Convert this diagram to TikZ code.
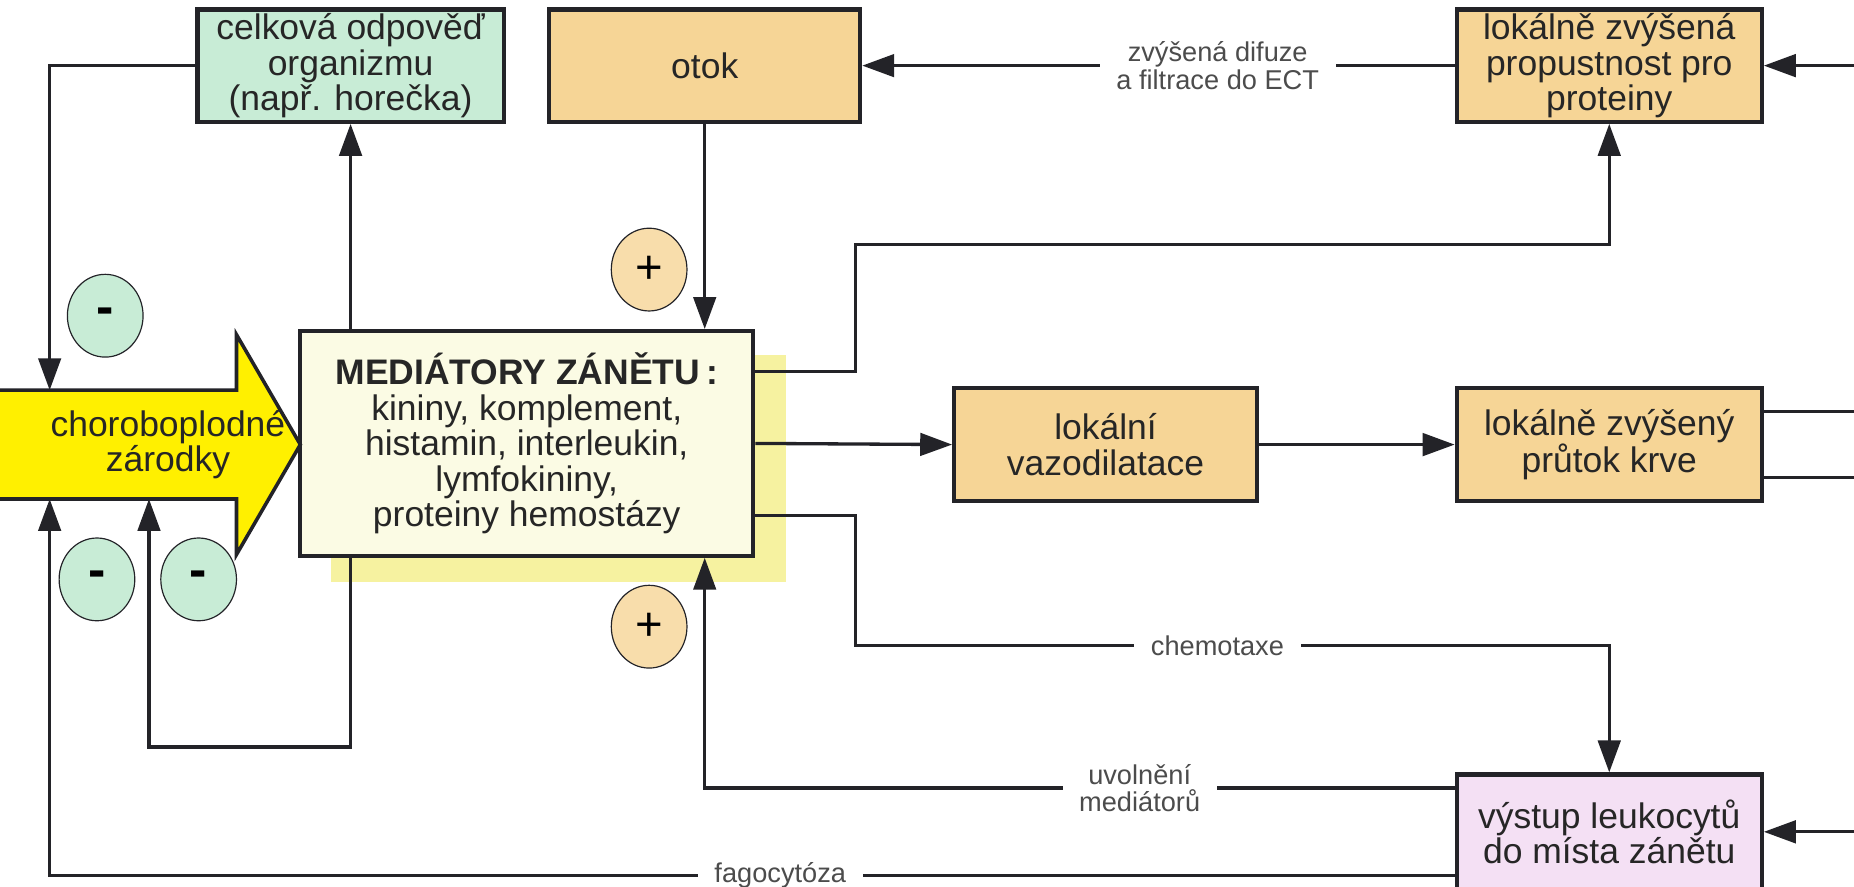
\documentclass[tikz,border=0pt]{standalone}
\usepackage{fontspec}
\setmainfont{Liberation Sans}
\usetikzlibrary{arrows.meta,shapes.geometric,calc}

\definecolor{zelena}{RGB}{200,236,214}
\definecolor{okrova}{RGB}{246,213,150}
\definecolor{medbg}{RGB}{251,251,228}
\definecolor{stin}{RGB}{246,242,160}
\definecolor{ruzova}{RGB}{244,224,244}
\definecolor{zluta}{RGB}{255,240,0}
\definecolor{cara}{RGB}{35,35,40}

\newcommand\bxfont{\fontsize{30}{30}\selectfont}
\newcommand\lbfont{\fontsize{23}{23}\selectfont}

\tikzset{
  box/.style={draw=cara, line width=3.5pt, align=center, font=\bxfont, text=black!85,
    minimum height=95pt, inner sep=0pt},
  lbl/.style={fill=white, align=center, font=\lbfont, text=black!70,
    inner xsep=14pt, inner ysep=2pt},
  znak/.style={ellipse, draw=cara, line width=1pt, minimum width=64pt,
    minimum height=70pt, inner sep=0pt},
  arr/.style={draw=cara, line width=2.8pt, -{Triangle[length=27pt,width=19pt]}},
  spoj/.style={draw=cara, line width=2.8pt},
}

\begin{document}
\begin{tikzpicture}[x=1pt, y=-1pt]
  \useasboundingbox (0,0) rectangle (1568,750);
  \fill[white] (0,0) rectangle (1568,750);

  % boxes
  \node[box, fill=zelena, minimum width=259pt] (celk) at (296.5,55.5)
    {celková odpověď\\organizmu\\(např. horečka)};
  \node[box, fill=okrova, minimum width=263pt] (otok) at (596,55.5) {otok};
  \node[box, fill=okrova, minimum width=258pt] (prop) at (1361,55.5)
    {lokálně zvýšená\\propustnost pro\\proteiny};
  \fill[stin] (280,300) rectangle (665,492);
  \node[box, fill=medbg, minimum width=383pt, minimum height=190pt] (med) at (445.5,375)
    {\textbf{MEDIÁTORY ZÁNĚTU\,:}\\kininy, komplement,\\histamin, interleukin,\\lymfokininy,\\proteiny hemostázy};
  \node[box, fill=okrova, minimum width=256pt, minimum height=96pt] (vaz) at (935,376)
    {lokální\\vazodilatace};
  \node[box, fill=okrova, minimum width=258pt, minimum height=96pt] (prut) at (1361,376)
    {lokálně zvýšený\\průtok krve};
  \node[box, fill=ruzova, minimum width=258pt, minimum height=97pt] (leuk) at (1361,703.5)
    {výstup leukocytů\\do místa zánětu};

  % choroboplodne zarodky
  \filldraw[fill=zluta, draw=cara, line width=3pt]
    (-5,330) -- (200,330) -- (200,283) -- (254,376) -- (200,469) -- (200,422) -- (-5,422) -- cycle;
  \node[font=\bxfont, align=center, text=black!85] (choro) at (142,376) {choroboplodné\\zárodky};
  \coordinate (chtop) at (42,330);
  \coordinate (chbot1) at (42,422);
  \coordinate (chbot2) at (126,422);

  % signs
  \node[znak, fill=zelena, font=\fontsize{44}{44}\selectfont\bfseries] (minus1) at (89,267) {-};
  \node[znak, fill=zelena, font=\fontsize{44}{44}\selectfont\bfseries] (minus2) at (82,490) {-};
  \node[znak, fill=zelena, font=\fontsize{44}{44}\selectfont\bfseries] (minus3) at (168,490) {-};
  \node[znak, fill=okrova!80, font=\fontsize{40}{40}\selectfont] (plus1) at (549,228) {+};
  \node[znak, fill=okrova!80, font=\fontsize{40}{40}\selectfont] (plus2) at (549,530) {+};

  % right edge
  \coordinate (vstup1) at (1580,55.5);
  \coordinate (vstup2) at (1580,703.5);
  \coordinate (vystup1) at (1580,348);
  \coordinate (vystup2) at (1580,404);

  % connectors
  \draw[arr] (vstup1) -- (prop.east);
  \draw[arr] (prop.west) -- node[lbl, pos=0.4] {zvýšená difuze\\a filtrace do ECT} (otok.east);
  \draw[arr] (otok.south) -- (otok.south |- med.north);
  \draw[arr] (celk.south |- med.north) -- (celk.south);
  \draw[arr] (celk.west) -| (chtop);
  \draw[arr] ($(med.east)+(0,-61)$) -- ++(85,0) -- ++(0,-107) -| (prop.south);
  \draw[arr] (med.east) -- (vaz.west);
  \draw[arr] ($(med.east)+(0,61)$) -- ++(85,0) -- ++(0,110) -| node[lbl, pos=0.24] {chemotaxe} (leuk.north);
  \draw[arr] (vaz.east) -- (prut.west);
  \draw[spoj] ($(prut.east)+(0,-28)$) -- (vystup1);
  \draw[spoj] ($(prut.east)+(0,28)$) -- (vystup2);
  \draw[arr] (vstup2) -- (leuk.east);
  \draw[arr] ($(leuk.west)+(0,-37)$) -| node[lbl, pos=0.21] {uvolnění\\mediátorů} (otok.south |- med.south);
  \draw[arr] ($(leuk.west)+(0,37)$) -| node[lbl, pos=0.24] {fagocytóza} (chbot1);
  \draw[arr] (celk.south |- med.south) -- ++(0,160) -| (chbot2);
\end{tikzpicture}
\end{document}
